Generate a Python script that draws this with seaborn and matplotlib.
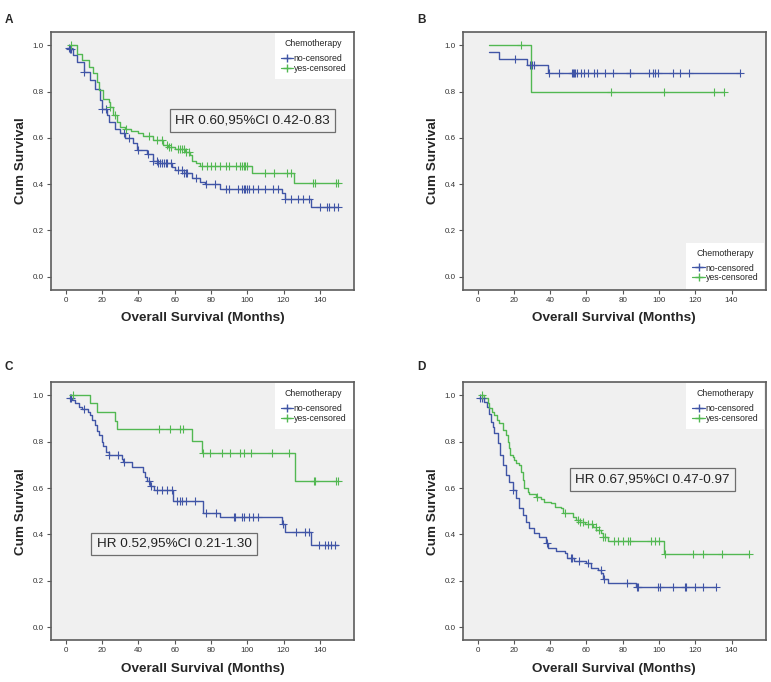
import numpy as np
import pandas as pd
import matplotlib
matplotlib.use('Agg')
import matplotlib.pyplot as plt
from matplotlib.lines import Line2D
import seaborn as sns

# Dades llegides del gràfic (temps en mesos, supervivència acumulada)
# Panell A
a_no_t = [0.5, 2, 4, 6, 9.7, 13.4, 16, 18.9, 20, 22.6, 23.5, 27, 30, 32.7, 37, 39, 44.5, 48, 51, 58.4,
          60.2, 65, 69.4, 74, 76.7, 85, 119, 121, 135.4, 150]
a_no_s = [0.99, 0.985, 0.96, 0.93, 0.886, 0.85, 0.81, 0.764, 0.724, 0.70, 0.67, 0.64, 0.62, 0.60, 0.58, 0.55,
          0.53, 0.50, 0.49, 0.475, 0.46, 0.447, 0.428, 0.41, 0.40, 0.38, 0.36, 0.335, 0.30, 0.30]
a_no_cens = [1.5, 2.5, 3, 10, 20, 22, 32, 35, 40, 45, 48, 50, 51, 52, 53, 54, 55, 56, 58, 62, 64, 65, 66, 67,
             72, 77, 82, 88, 90, 95, 97, 98, 99, 100, 101, 103, 106, 110, 114, 117, 121, 124, 128, 131, 134,
             140, 144, 145, 148, 150]
a_yes_t = [2, 6, 8.8, 12.5, 15.2, 17, 18.5, 20.7, 23.5, 24.4, 26, 28, 30, 32.7, 36, 40, 42.7, 48, 53.7, 56.5,
           60, 65.7, 68.4, 69.4, 72, 74, 102.7, 126, 150]
a_yes_s = [1.0, 0.965, 0.937, 0.908, 0.88, 0.843, 0.807, 0.77, 0.757, 0.735, 0.70, 0.67, 0.648, 0.64, 0.63,
           0.62, 0.61, 0.59, 0.57, 0.56, 0.554, 0.54, 0.525, 0.50, 0.49, 0.477, 0.45, 0.405, 0.405]
a_yes_cens = [3, 24.5, 27, 33, 46, 50, 53, 56, 57, 58, 62, 63, 64, 65, 66, 68, 75, 78, 80, 82, 85, 88, 90, 94,
              96, 97, 98, 99, 100, 110, 115, 122, 124, 136.5, 137.5, 149, 150]

# Panell B
b_no_t = [6.4, 12, 27, 38.7, 144.6]
b_no_s = [0.973, 0.942, 0.915, 0.879, 0.879]
b_no_cens = [20.8, 29, 30, 31, 39.2, 44.6, 52, 52.5, 53, 53.5, 55, 57, 58.6, 61, 64, 66, 70.4, 74.6, 83.8,
             84.2, 94.3, 96.7, 97.6, 99.4, 108, 111.6, 116.4, 144.6]
b_yes_t = [6.4, 29.5, 136]
b_yes_s = [1.0, 0.80, 0.80]
b_yes_cens = [24, 73.3, 103, 130.4, 136]

# Panell C
c_no_t = [1.5, 3.3, 5, 7, 8.8, 12, 13.4, 14.3, 16, 17, 18.5, 19.8, 20.7, 22.2, 23.5, 30.8, 31.7, 36.3, 42.7,
          43.7, 44.6, 46.4, 48.3, 59.3, 75.8, 85, 119, 120.7, 135.4, 150]
c_no_s = [0.99, 0.98, 0.966, 0.95, 0.94, 0.93, 0.915, 0.894, 0.872, 0.848, 0.83, 0.80, 0.78, 0.757, 0.743,
          0.726, 0.714, 0.69, 0.67, 0.65, 0.63, 0.61, 0.59, 0.546, 0.494, 0.474, 0.445, 0.41, 0.356, 0.356]
c_no_cens = [2.5, 3, 10, 24, 28.7, 32, 46, 47, 50, 53, 56, 58.5, 61.5, 63, 64.2, 66, 71, 77, 83, 92.5, 93.5,
             97, 98, 101, 103, 106, 119.7, 127, 132, 134, 139.5, 143, 144.5, 146, 148.6]
c_yes_t = [2, 13, 17, 27, 28.4, 69.4, 75.2, 126.2, 150]
c_yes_s = [1.0, 0.966, 0.927, 0.889, 0.853, 0.805, 0.753, 0.632, 0.632]
c_yes_cens = [4, 51.5, 57.2, 63, 64.5, 75.5, 79.5, 86, 90.6, 96, 98.2, 102, 113.4, 123, 136.8, 137.2, 149, 150]

# Panell D
d_no_t = [1, 3.7, 5.2, 6.4, 7.4, 8.3, 9.2, 11, 12.5, 13.8, 15.6, 17.5, 19.3, 21.2, 23, 24.9, 26.7, 28.5, 31.3,
          34, 37.8, 38.7, 43.3, 47.9, 49.4, 53.4, 59.9, 62.6, 66.3, 68, 69, 71.8, 87.5, 131.7]
d_no_s = [0.99, 0.973, 0.95, 0.92, 0.887, 0.865, 0.836, 0.793, 0.743, 0.70, 0.657, 0.628, 0.592, 0.556, 0.513,
          0.484, 0.455, 0.427, 0.408, 0.39, 0.362, 0.34, 0.33, 0.318, 0.297, 0.287, 0.276, 0.254, 0.247, 0.233,
          0.21, 0.19, 0.175, 0.175]
d_no_cens = [1.5, 2.5, 19.5, 38, 51.5, 52, 56, 61, 67.8, 69.9, 82.4, 88, 88.5, 99.5, 100.3, 108, 114.4, 115,
             120, 124, 131.7]
d_yes_t = [2, 3.7, 5.5, 6.4, 7.7, 9.2, 10.7, 12, 13.8, 15.6, 16.6, 17.5, 18, 19.3, 20.3, 21.2, 23, 23.9, 24.9,
           25.8, 27.6, 28.5, 32.2, 35, 36.8, 40.5, 42.4, 46, 47, 52.5, 54.3, 56.2, 59, 63.5, 65.4, 68, 69, 71.8,
           102.8, 149.7]
d_yes_s = [1.0, 0.987, 0.966, 0.944, 0.93, 0.915, 0.894, 0.879, 0.85, 0.83, 0.80, 0.772, 0.743, 0.736, 0.72,
           0.707, 0.70, 0.67, 0.635, 0.60, 0.585, 0.575, 0.563, 0.552, 0.542, 0.534, 0.52, 0.513, 0.491, 0.477,
           0.463, 0.455, 0.445, 0.434, 0.42, 0.408, 0.39, 0.37, 0.315, 0.315]
d_yes_cens = [2.5, 33, 47.9, 55.5, 56.5, 58.3, 61, 63, 65, 67, 69, 70.5, 75, 77.5, 80, 83, 84, 95.5, 98, 100,
              103.5, 119, 124, 135, 149.7]

hr_texts = ['HR 0.60,95%CI 0.42-0.83', None, 'HR 0.52,95%CI 0.21-1.30', 'HR 0.67,95%CI 0.47-0.97']
hr_pos = [(103, 0.677), None, (59.6, 0.359), (96.4, 0.636)]
panel_labels = ['A', 'B', 'C', 'D']
group_labels = ['no-censored', 'yes-censored']

blue = '#4055a6'
green = '#52b852'

sns.set_style('white')
plt.rcParams['font.family'] = ['Liberation Sans', 'DejaVu Sans']

fig = plt.figure(figsize=(7.71, 6.82), dpi=100)
fig.patch.set_facecolor('white')

# posicions dels eixos (fracció de figura)
axes_pos = [
    [0.066, 0.575, 0.393, 0.378],
    [0.600, 0.575, 0.393, 0.378],
    [0.066, 0.061, 0.393, 0.379],
    [0.600, 0.061, 0.393, 0.379],
]
label_pos = [(0.006, 0.980), (0.541, 0.980), (0.006, 0.471), (0.541, 0.471)]

panels = [
    (a_no_t, a_no_s, a_no_cens, a_yes_t, a_yes_s, a_yes_cens),
    (b_no_t, b_no_s, b_no_cens, b_yes_t, b_yes_s, b_yes_cens),
    (c_no_t, c_no_s, c_no_cens, c_yes_t, c_yes_s, c_yes_cens),
    (d_no_t, d_no_s, d_no_cens, d_yes_t, d_yes_s, d_yes_cens),
]


def step_value(t, s, c):
    idx = np.searchsorted(t, c, side='right') - 1
    idx = np.clip(idx, 0, len(s) - 1)
    return np.asarray(s)[idx]


for i, (nt, ns, nc, yt, ys, yc) in enumerate(panels):
    ax = fig.add_axes(axes_pos[i])
    ax.set_facecolor('#f0f0f0')

    for t, s, c, col in [(nt, ns, nc, blue), (yt, ys, yc, green)]:
        df = pd.DataFrame({'t': t, 's': s})
        sns.lineplot(data=df, x='t', y='s', drawstyle='steps-post', estimator=None, sort=False,
                     color=col, linewidth=1.0, ax=ax, legend=False)
        dfc = pd.DataFrame({'t': c, 's': step_value(t, s, c)})
        sns.scatterplot(data=dfc, x='t', y='s', marker='+', s=26, color=col, linewidth=0.8,
                        ax=ax, legend=False, zorder=3)

    ax.set_xlim(-8.3, 158.8)
    ax.set_ylim(-0.057, 1.058)
    ax.set_xticks(np.arange(0, 141, 20))
    ax.set_yticks(np.arange(0, 1.01, 0.2))
    ax.set_yticklabels([f'{v:.1f}' for v in np.arange(0, 1.01, 0.2)])
    ax.tick_params(axis='both', direction='out', length=3, width=0.8, color='#555555',
                   labelsize=5.8, labelcolor='#333333', pad=2, bottom=True, left=True)
    for sp in ax.spines.values():
        sp.set_color('#5c5c5c')
        sp.set_linewidth(1.2)

    ax.set_xlabel('Overall Survival (Months)', fontsize=9.7, fontweight='bold', labelpad=6)
    ax.set_ylabel('Cum Survival', fontsize=9.7, fontweight='bold', labelpad=4)

    handles = [Line2D([0], [0], color=blue, marker='+', markersize=6, linewidth=0.9),
               Line2D([0], [0], color=green, marker='+', markersize=6, linewidth=0.9)]
    leg = ax.legend(handles, group_labels, title='Chemotherapy', loc='lower right' if i == 1 else 'upper right',
                    fontsize=6.3, title_fontsize=6.3, frameon=True, fancybox=False, framealpha=1,
                    facecolor='white', edgecolor='white', borderaxespad=0.15, handlelength=1.4,
                    handletextpad=0.1, labelspacing=0.1, borderpad=0.7)
    leg.get_frame().set_linewidth(0)
    leg._legend_box.sep = 4

    if hr_texts[i] is not None:
        ax.text(hr_pos[i][0], hr_pos[i][1], hr_texts[i], ha='center', va='center', fontsize=9.7,
                color='#222222',
                bbox=dict(boxstyle='square,pad=0.4', facecolor='#f2f2f2', edgecolor='#6e6e6e', linewidth=0.9))

    fig.text(label_pos[i][0], label_pos[i][1], panel_labels[i], fontsize=8.5, fontweight='bold',
             ha='left', va='top')

fig.savefig('out.png', dpi=100)
